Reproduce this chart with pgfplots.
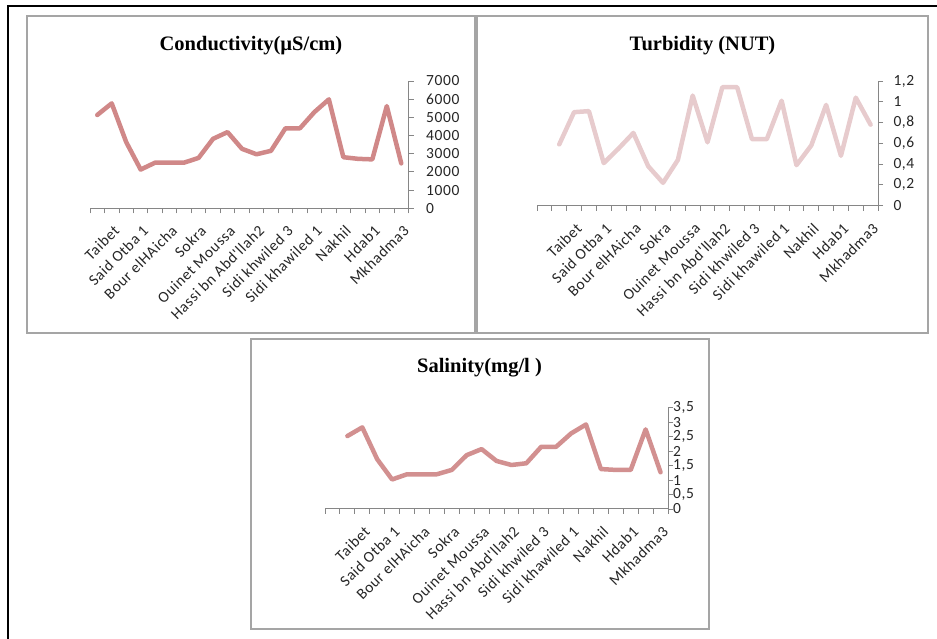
\documentclass[border=0pt]{standalone}
\usepackage{fontspec}
\setmainfont{Liberation Serif}
\newfontfamily\calib[LetterSpace=4]{Carlito}
\usepackage{pgfplots}
\pgfplotsset{compat=1.18}
\usepackage{pgfplotstable}

\definecolor{condc}{RGB}{208,136,136}
\definecolor{turbc}{RGB}{231,203,205}
\definecolor{salc}{RGB}{210,144,144}
\definecolor{axisgray}{RGB}{134,134,134}
\definecolor{framegray}{RGB}{165,165,165}

% station index, value
\pgfplotstableread{
i v
1 5130
2 5770
3 3640
4 2130
5 2510
6 2510
7 2510
8 2770
9 3820
10 4190
11 3270
12 2970
13 3160
14 4400
15 4400
16 5290
17 5990
18 2810
19 2720
20 2690
21 5620
22 2470
}\conductivity

\pgfplotstableread{
i v
1 0.59
2 0.90
3 0.91
4 0.41
5 0.55
6 0.70
7 0.38
8 0.22
9 0.44
10 1.06
11 0.61
12 1.14
13 1.14
14 0.64
15 0.64
16 1.01
17 0.39
18 0.58
19 0.97
20 0.48
21 1.04
22 0.78
}\turbidity

\pgfplotstableread{
i v
1 2.52
2 2.82
3 1.72
4 1.02
5 1.20
6 1.20
7 1.20
8 1.35
9 1.86
10 2.07
11 1.66
12 1.52
13 1.58
14 2.15
15 2.15
16 2.61
17 2.92
18 1.38
19 1.35
20 1.35
21 2.75
22 1.27
}\salinity

\pgfplotsset{
  station/.style={
    scale only axis, anchor=south west, clip=false,
    xmax=22.5, ymin=0,
    axis x line=bottom, axis y line=right,
    axis line style={draw=axisgray, line width=1pt, -},
    tick align=outside,
    major tick length=5pt,
    tick style={draw=axisgray, line width=0.9pt},
    xticklabels={},
    extra x ticks={2,4,...,22},
    extra x tick labels={Taibet,Said Otba 1,Bour elHAicha,Sokra,Ouinet Moussa,Hassi bn Abd'llah2,Sidi khwiled 3,Sidi khawiled 1,Nakhil,Hdab1,Mkhadma3},
    extra x tick style={major tick length=0pt,
      xticklabel style={inner sep=0pt, xshift=5pt, yshift=-20pt, rotate=45, anchor=east}},
    tick label style={font=\calib\fontsize{15.5}{15.5}\selectfont, text=black!85},
    /pgf/number format/assume math mode=true,
    /pgf/number format/use comma,
    /pgf/number format/1000 sep={},
    yticklabel style={anchor=west, inner sep=0pt},
  },
  station line/.style={line width=4.5pt, line join=round, line cap=round, no markers},
}

\begin{document}
\begin{tikzpicture}
\useasboundingbox (0,0) rectangle (937pt,639pt);

% outer frame and chart frames
\draw[black, line width=1.5pt] (8pt,0pt) -- (8pt,633pt) -- (937pt,633pt);
\draw[framegray, line width=1.8pt] (27pt,306pt) rectangle (475pt,623pt);
\draw[framegray, line width=1.8pt] (477pt,306pt) rectangle (928pt,623pt);
\draw[framegray, line width=1.8pt] (251pt,10pt) rectangle (709pt,300pt);

% titles
\node[anchor=base, font=\bfseries\fontsize{20.5}{24}\selectfont] at (251pt,588.3pt) {Conductivity(µS/cm)};
\node[anchor=base, font=\bfseries\fontsize{20.5}{24}\selectfont] at (702.5pt,588.3pt) {Turbidity (NUT)};
\node[anchor=base, font=\bfseries\fontsize{20.5}{24}\selectfont] at (479.5pt,266.7pt) {Salinity(mg/l )};

% conductivity
\begin{axis}[station, at={(90pt,430.7pt)}, width=318.5pt, height=127.3pt,
  xmin=0.5, ymax=7000,
  xtick={0.5,1.5,...,22.5},
  ytick={0,1000,2000,3000,4000,5000,6000,7000},
  yticklabel style={xshift=12.5pt}]
\addplot[condc, station line] table[x=i, y=v] {\conductivity};
\end{axis}

% turbidity
\begin{axis}[station, at={(537pt,433.3pt)}, width=341pt, height=124.7pt,
  xmin=-0.5, ymax=1.2,
  xtick={-0.5,0.5,...,22.5},
  ytick={0,0.2,0.4,0.6,0.8,1,1.2},
  yticklabel style={xshift=10.3pt}]
\addplot[turbc, station line] table[x=i, y=v] {\turbidity};
\end{axis}

% salinity
\begin{axis}[station, at={(325pt,130pt)}, width=343pt, height=101.3pt,
  xmin=-0.5, ymax=3.5,
  xtick={-0.5,0.5,...,22.5},
  ytick={0,0.5,1,1.5,2,2.5,3,3.5},
  yticklabel style={xshift=0pt}]
\addplot[salc, station line] table[x=i, y=v] {\salinity};
\end{axis}
\end{tikzpicture}
\end{document}
